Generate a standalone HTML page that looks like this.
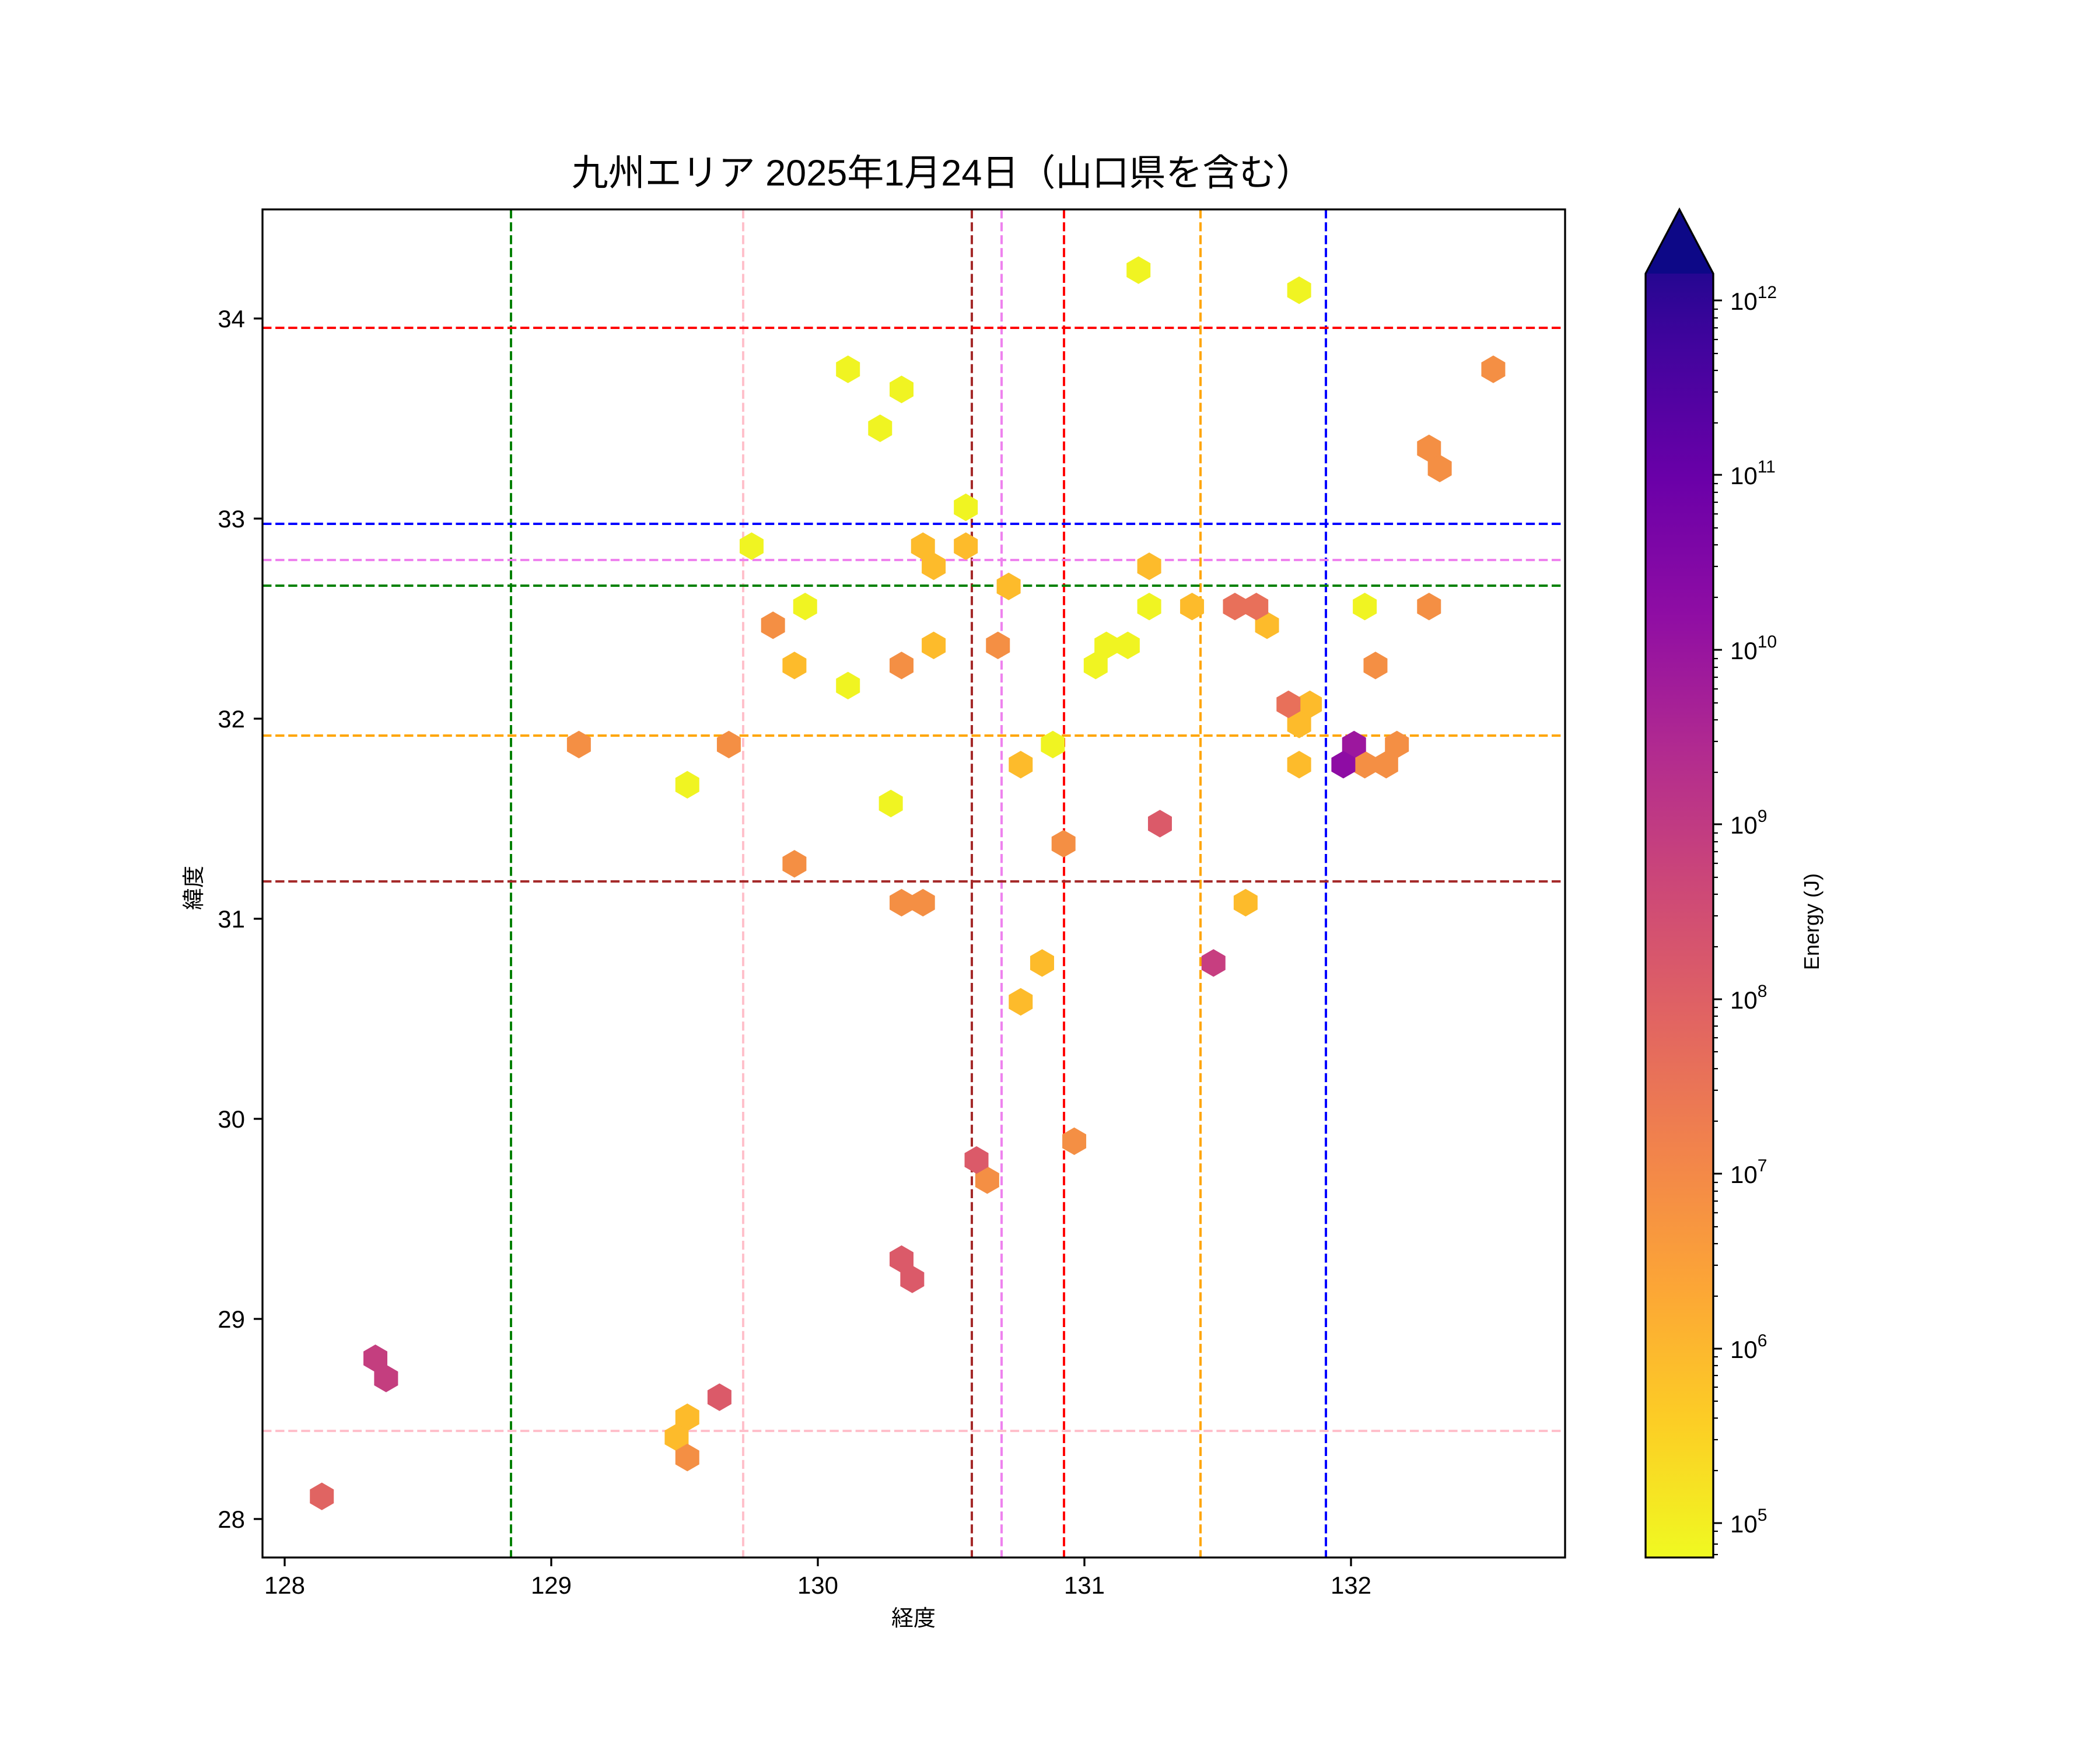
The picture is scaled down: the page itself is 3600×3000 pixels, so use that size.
<!DOCTYPE html>
<html><head><meta charset="utf-8"><style>html,body{margin:0;padding:0;background:#fff}svg{display:block}</style></head>
<body>
<svg xmlns="http://www.w3.org/2000/svg" xmlns:xlink="http://www.w3.org/1999/xlink" width="3600" height="3000" viewBox="0 0 3600 3000">
<defs>
<polygon id="h" points="0,-10.3 8.93,-5.15 8.93,5.15 0,10.3 -8.93,5.15 -8.93,-5.15"/>
<linearGradient id="cb" x1="0" y1="1" x2="0" y2="0">
<stop offset="0" stop-color="#f0f921"/><stop offset="0.1" stop-color="#fcce25"/><stop offset="0.2" stop-color="#fca636"/><stop offset="0.3" stop-color="#f2844b"/><stop offset="0.4" stop-color="#e16462"/><stop offset="0.5" stop-color="#cc4778"/><stop offset="0.6" stop-color="#b12a90"/><stop offset="0.7" stop-color="#8f0da4"/><stop offset="0.8" stop-color="#6a00a8"/><stop offset="0.9" stop-color="#41049d"/><stop offset="1" stop-color="#0d0887"/>
</linearGradient>
<clipPath id="pc"><rect x="450" y="359" width="2233" height="2311"/></clipPath>
</defs>
<rect width="3600" height="3000" fill="#fff"/>
<text x="1615" y="318" font-family="'Liberation Sans','Noto Sans CJK JP',sans-serif" font-size="63" text-anchor="middle">九州エリア 2025年1月24日（山口県を含む）</text>

<g clip-path="url(#pc)" fill="none" stroke-width="4" stroke-dasharray="15.4 6.7">
<line x1="876" y1="359" x2="876" y2="2670" stroke="green"/>
<line x1="1274" y1="359" x2="1274" y2="2670" stroke="pink"/>
<line x1="1666" y1="359" x2="1666" y2="2670" stroke="brown"/>
<line x1="1717" y1="359" x2="1717" y2="2670" stroke="violet"/>
<line x1="1824" y1="359" x2="1824" y2="2670" stroke="red"/>
<line x1="2058" y1="359" x2="2058" y2="2670" stroke="orange"/>
<line x1="2273" y1="359" x2="2273" y2="2670" stroke="blue"/>
<line x1="450" y1="562" x2="2683" y2="562" stroke="red"/>
<line x1="450" y1="898" x2="2683" y2="898" stroke="blue"/>
<line x1="450" y1="960" x2="2683" y2="960" stroke="violet"/>
<line x1="450" y1="1004" x2="2683" y2="1004" stroke="green"/>
<line x1="450" y1="1261" x2="2683" y2="1261" stroke="orange"/>
<line x1="450" y1="1511" x2="2683" y2="1511" stroke="brown"/>
<line x1="450" y1="2453" x2="2683" y2="2453" stroke="pink"/>
</g>

<g transform="translate(0.9,-0.5)"><g transform="matrix(2.2951,0,0,2.2974,0,8.7)">
<g transform="translate(0,-4)">
<g fill="#f0f422">
<use xlink:href="#h" x="850" y="202"/><use xlink:href="#h" x="970" y="217"/><use xlink:href="#h" x="633" y="276"/><use xlink:href="#h" x="673" y="291"/><use xlink:href="#h" x="657" y="320"/><use xlink:href="#h" x="721" y="379"/><use xlink:href="#h" x="561" y="408"/><use xlink:href="#h" x="601" y="453"/><use xlink:href="#h" x="858" y="453"/><use xlink:href="#h" x="1019" y="453"/><use xlink:href="#h" x="826" y="482"/><use xlink:href="#h" x="842" y="482"/><use xlink:href="#h" x="818" y="497"/><use xlink:href="#h" x="633" y="512"/><use xlink:href="#h" x="786" y="556"/><use xlink:href="#h" x="513" y="586"/><use xlink:href="#h" x="665" y="600"/>
</g>
<g fill="#fdbb2b">
<use xlink:href="#h" x="689" y="408"/><use xlink:href="#h" x="721" y="408"/><use xlink:href="#h" x="697" y="423"/><use xlink:href="#h" x="858" y="423"/><use xlink:href="#h" x="753" y="438"/><use xlink:href="#h" x="890" y="453"/><use xlink:href="#h" x="946" y="467"/><use xlink:href="#h" x="697" y="482"/><use xlink:href="#h" x="593" y="497"/><use xlink:href="#h" x="978" y="526"/><use xlink:href="#h" x="970" y="541"/><use xlink:href="#h" x="762" y="571"/><use xlink:href="#h" x="970" y="571"/><use xlink:href="#h" x="930" y="674"/><use xlink:href="#h" x="778" y="719"/><use xlink:href="#h" x="762" y="748"/><use xlink:href="#h" x="513" y="1058"/><use xlink:href="#h" x="505" y="1073"/>
</g>
<g fill="#f48f44">
<use xlink:href="#h" x="1115" y="276"/><use xlink:href="#h" x="1067" y="335"/><use xlink:href="#h" x="1075" y="350"/><use xlink:href="#h" x="1067" y="453"/><use xlink:href="#h" x="577" y="467"/><use xlink:href="#h" x="745" y="482"/><use xlink:href="#h" x="673" y="497"/><use xlink:href="#h" x="1027" y="497"/><use xlink:href="#h" x="432" y="556"/><use xlink:href="#h" x="544" y="556"/><use xlink:href="#h" x="1043" y="556"/><use xlink:href="#h" x="1019" y="571"/><use xlink:href="#h" x="1035" y="571"/><use xlink:href="#h" x="593" y="645"/><use xlink:href="#h" x="794" y="630"/><use xlink:href="#h" x="673" y="674"/><use xlink:href="#h" x="689" y="674"/><use xlink:href="#h" x="802" y="852"/><use xlink:href="#h" x="737" y="881"/><use xlink:href="#h" x="513" y="1088"/>
</g>
<g fill="#e8705a">
<use xlink:href="#h" x="922" y="453"/><use xlink:href="#h" x="938" y="453"/><use xlink:href="#h" x="962" y="526"/>
</g>
<g fill="#db5a69">
<use xlink:href="#h" x="866" y="615"/><use xlink:href="#h" x="729" y="866"/><use xlink:href="#h" x="673" y="940"/><use xlink:href="#h" x="681" y="955"/><use xlink:href="#h" x="537" y="1043"/><use xlink:href="#h" x="240" y="1117" fill="#e06462"/>
</g>
<use xlink:href="#h" x="1011" y="556" fill="#9c179e"/>
<use xlink:href="#h" x="1003" y="571" fill="#8e0ca4"/>
<use xlink:href="#h" x="906" y="719" fill="#c73e80"/>
<use xlink:href="#h" x="280" y="1014" fill="#c43e7f"/>
<use xlink:href="#h" x="288" y="1029" fill="#c43e7f"/>
</g>
</g></g>

<rect x="450" y="359" width="2233" height="2311" fill="none" stroke="#000" stroke-width="3.3"/>

<g stroke="#000" stroke-width="3.3">
<line x1="488" y1="2670" x2="488" y2="2685"/><line x1="945" y1="2670" x2="945" y2="2685"/><line x1="1402" y1="2670" x2="1402" y2="2685"/><line x1="1859" y1="2670" x2="1859" y2="2685"/><line x1="2316" y1="2670" x2="2316" y2="2685"/>
<line x1="435" y1="2604" x2="450" y2="2604"/><line x1="435" y1="2261" x2="450" y2="2261"/><line x1="435" y1="1918" x2="450" y2="1918"/><line x1="435" y1="1575" x2="450" y2="1575"/><line x1="435" y1="1232" x2="450" y2="1232"/><line x1="435" y1="889" x2="450" y2="889"/><line x1="435" y1="546" x2="450" y2="546"/>
</g>
<g font-family="'Liberation Sans','Noto Sans CJK JP',sans-serif" font-size="42" fill="#000">
<g text-anchor="middle">
<text x="488" y="2732">128</text><text x="945" y="2732">129</text><text x="1402" y="2732">130</text><text x="1859" y="2732">131</text><text x="2316" y="2732">132</text>
</g>
<g text-anchor="end">
<text x="420" y="2619">28</text><text x="420" y="2276">29</text><text x="420" y="1933">30</text><text x="420" y="1590">31</text><text x="420" y="1247">32</text><text x="420" y="904">33</text><text x="420" y="561">34</text>
</g>
<text x="1566" y="2787" text-anchor="middle" font-size="38">経度</text>
<text transform="translate(345,1522) rotate(-90)" text-anchor="middle" font-size="38">緯度</text>
<text transform="translate(3118,1580) rotate(-90)" text-anchor="middle" font-size="36">Energy (J)</text>
</g>

<polygon points="2821,2670 2821,469 2879,359 2937,469 2937,2670" fill="url(#cb)"/>
<polygon points="2821,469 2879,359 2937,469" fill="#0d0887"/>
<polygon points="2821,2670 2821,469 2879,359 2937,469 2937,2670" fill="none" stroke="#000" stroke-width="3.3"/>
<g stroke="#000" stroke-width="3">
<line x1="2937" y1="2611" x2="2952" y2="2611"/><line x1="2937" y1="2312" x2="2952" y2="2312"/><line x1="2937" y1="2012" x2="2952" y2="2012"/><line x1="2937" y1="1713" x2="2952" y2="1713"/><line x1="2937" y1="1413" x2="2952" y2="1413"/><line x1="2937" y1="1114" x2="2952" y2="1114"/><line x1="2937" y1="814" x2="2952" y2="814"/><line x1="2937" y1="515" x2="2952" y2="515"/>
</g>
<g stroke="#000" stroke-width="2.2">
<line x1="2937" y1="2665" x2="2945" y2="2665"/><line x1="2937" y1="2647" x2="2945" y2="2647"/><line x1="2937" y1="2625" x2="2945" y2="2625"/>
<line x1="2937" y1="2521" x2="2945" y2="2521"/><line x1="2937" y1="2468" x2="2945" y2="2468"/><line x1="2937" y1="2431" x2="2945" y2="2431"/><line x1="2937" y1="2402" x2="2945" y2="2402"/><line x1="2937" y1="2378" x2="2945" y2="2378"/><line x1="2937" y1="2358" x2="2945" y2="2358"/><line x1="2937" y1="2341" x2="2945" y2="2341"/><line x1="2937" y1="2326" x2="2945" y2="2326"/>
<line x1="2937" y1="2222" x2="2945" y2="2222"/><line x1="2937" y1="2169" x2="2945" y2="2169"/><line x1="2937" y1="2132" x2="2945" y2="2132"/><line x1="2937" y1="2103" x2="2945" y2="2103"/><line x1="2937" y1="2079" x2="2945" y2="2079"/><line x1="2937" y1="2059" x2="2945" y2="2059"/><line x1="2937" y1="2042" x2="2945" y2="2042"/><line x1="2937" y1="2027" x2="2945" y2="2027"/>
<line x1="2937" y1="1922" x2="2945" y2="1922"/><line x1="2937" y1="1869" x2="2945" y2="1869"/><line x1="2937" y1="1832" x2="2945" y2="1832"/><line x1="2937" y1="1803" x2="2945" y2="1803"/><line x1="2937" y1="1779" x2="2945" y2="1779"/><line x1="2937" y1="1759" x2="2945" y2="1759"/><line x1="2937" y1="1742" x2="2945" y2="1742"/><line x1="2937" y1="1727" x2="2945" y2="1727"/>
<line x1="2937" y1="1623" x2="2945" y2="1623"/><line x1="2937" y1="1570" x2="2945" y2="1570"/><line x1="2937" y1="1533" x2="2945" y2="1533"/><line x1="2937" y1="1504" x2="2945" y2="1504"/><line x1="2937" y1="1480" x2="2945" y2="1480"/><line x1="2937" y1="1460" x2="2945" y2="1460"/><line x1="2937" y1="1443" x2="2945" y2="1443"/><line x1="2937" y1="1428" x2="2945" y2="1428"/>
<line x1="2937" y1="1324" x2="2945" y2="1324"/><line x1="2937" y1="1271" x2="2945" y2="1271"/><line x1="2937" y1="1234" x2="2945" y2="1234"/><line x1="2937" y1="1205" x2="2945" y2="1205"/><line x1="2937" y1="1181" x2="2945" y2="1181"/><line x1="2937" y1="1161" x2="2945" y2="1161"/><line x1="2937" y1="1144" x2="2945" y2="1144"/><line x1="2937" y1="1129" x2="2945" y2="1129"/>
<line x1="2937" y1="1024" x2="2945" y2="1024"/><line x1="2937" y1="971" x2="2945" y2="971"/><line x1="2937" y1="934" x2="2945" y2="934"/><line x1="2937" y1="905" x2="2945" y2="905"/><line x1="2937" y1="881" x2="2945" y2="881"/><line x1="2937" y1="861" x2="2945" y2="861"/><line x1="2937" y1="844" x2="2945" y2="844"/><line x1="2937" y1="829" x2="2945" y2="829"/>
<line x1="2937" y1="725" x2="2945" y2="725"/><line x1="2937" y1="672" x2="2945" y2="672"/><line x1="2937" y1="635" x2="2945" y2="635"/><line x1="2937" y1="606" x2="2945" y2="606"/><line x1="2937" y1="582" x2="2945" y2="582"/><line x1="2937" y1="562" x2="2945" y2="562"/><line x1="2937" y1="545" x2="2945" y2="545"/><line x1="2937" y1="530" x2="2945" y2="530"/>
</g>
<g font-family="'Liberation Sans',sans-serif" font-size="42" fill="#000">
<text x="2966" y="2627">10<tspan font-size="30" dy="-20">5</tspan></text>
<text x="2966" y="2328">10<tspan font-size="30" dy="-20">6</tspan></text>
<text x="2966" y="2028">10<tspan font-size="30" dy="-20">7</tspan></text>
<text x="2966" y="1729">10<tspan font-size="30" dy="-20">8</tspan></text>
<text x="2966" y="1429">10<tspan font-size="30" dy="-20">9</tspan></text>
<text x="2966" y="1130">10<tspan font-size="30" dy="-20">10</tspan></text>
<text x="2966" y="830">10<tspan font-size="30" dy="-20">11</tspan></text>
<text x="2966" y="531">10<tspan font-size="30" dy="-20">12</tspan></text>
</g>
</svg>
</body></html>
